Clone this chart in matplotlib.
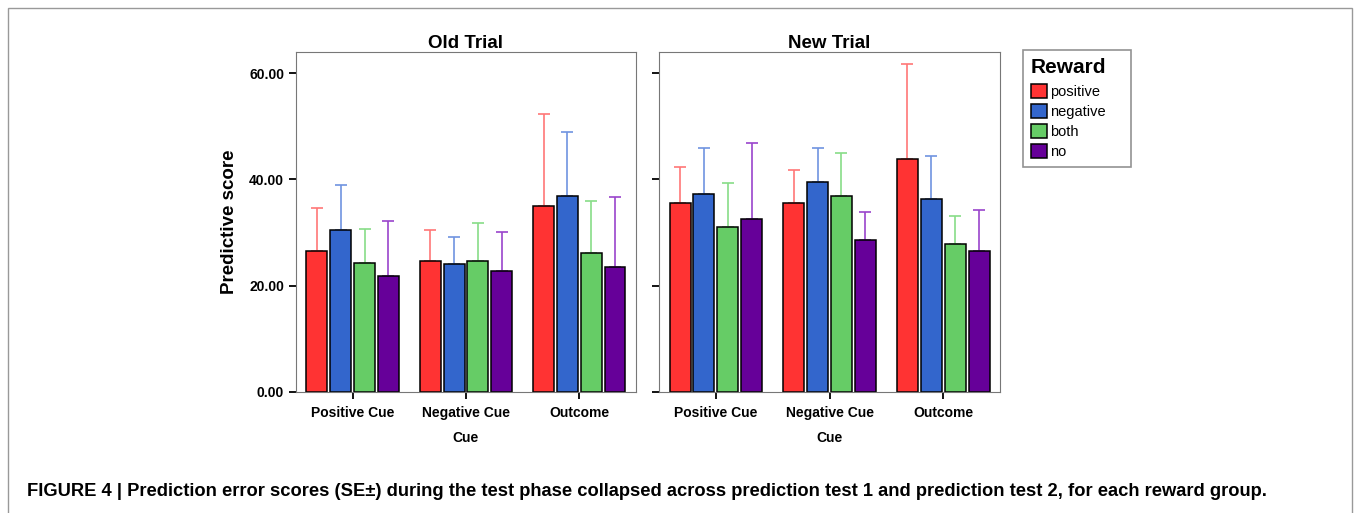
import numpy as np
import matplotlib.pyplot as plt
from matplotlib.patches import Rectangle

plt.rcParams['font.family'] = ['Liberation Sans', 'DejaVu Sans']

cues = ["Positive Cue", "Negative Cue", "Outcome"]
groups = ["positive", "negative", "both", "no"]
bar_colors = ["#ff3333", "#3366cc", "#66cc66", "#660099"]
err_colors = ["#ff7777", "#6f94e0", "#88dd88", "#9a44cc"]

# means per reward group, per cue
old_mean = {
    "positive": [26.6, 24.7, 35.1],
    "negative": [30.4, 24.0, 36.9],
    "both": [24.3, 24.7, 26.1],
    "no": [21.9, 22.7, 23.6],
}
old_top = {
    "positive": [34.6, 30.5, 52.3],
    "negative": [38.9, 29.1, 48.9],
    "both": [30.7, 31.9, 35.9],
    "no": [32.1, 30.1, 36.7],
}
new_mean = {
    "positive": [35.5, 35.5, 43.8],
    "negative": [37.3, 39.6, 36.4],
    "both": [31.1, 36.9, 27.9],
    "no": [32.6, 28.6, 26.6],
}
new_top = {
    "positive": [42.4, 41.8, 61.8],
    "negative": [45.9, 45.9, 44.5],
    "both": [39.4, 44.9, 33.1],
    "no": [46.8, 33.9, 34.2],
}

fig = plt.figure(figsize=(13.56, 5.13), dpi=100)
fig.patches.append(Rectangle((8 / 1356, -0.05), 1344 / 1356, 1.05 - 8 / 513,
                             transform=fig.transFigure,
                             fill=False, edgecolor="#999999", lw=1))

ax1 = fig.add_axes([0.2183, 0.2359, 0.2507, 0.6628])
ax2 = fig.add_axes([0.486, 0.2359, 0.2515, 0.6628])

x = np.arange(len(cues))
w = 0.185
offs = [-0.315, -0.105, 0.105, 0.315]

def draw(ax, means, tops, title):
    handles = []
    for i, g in enumerate(groups):
        m = np.array(means[g])
        t = np.array(tops[g])
        b = ax.bar(x + offs[i], m, w, color=bar_colors[i], edgecolor="black", lw=1.1,
                   label=g, zorder=2)
        handles.append(b)
        ax.errorbar(x + offs[i], m, yerr=[np.zeros_like(m), t - m], fmt="none",
                    ecolor=err_colors[i], elinewidth=1.2, capsize=4, capthick=1.2, zorder=1)
    ax.set_xlim(-0.5, 2.5)
    ax.set_ylim(0, 64)
    ax.set_yticks([0, 20, 40, 60])
    ax.set_xticks(x)
    ax.set_xticklabels(cues, fontsize=10, fontweight="bold")
    ax.set_xlabel("Cue", fontsize=10, fontweight="bold", labelpad=8)
    ax.set_title(title, fontsize=13.5, fontweight="bold", pad=3)
    for s in ax.spines.values():
        s.set_color("#777777")
    ax.tick_params(axis="both", length=5, width=1.3, color="black")
    ax.tick_params(axis="x", pad=5)
    return handles

h = draw(ax1, old_mean, old_top, "Old Trial")
draw(ax2, new_mean, new_top, "New Trial")

ax1.set_yticklabels(["0.00", "20.00", "40.00", "60.00"], fontsize=10, fontweight="bold")
ax1.set_ylabel("Predictive score", fontsize=13.5, fontweight="bold", labelpad=8)
ax2.set_yticklabels([])

leg = fig.legend(handles=h, labels=groups, loc="upper left",
                 bbox_to_anchor=(1023 / 1356, 1 - 163 / 513, 108 / 1356, 113 / 513),
                 mode="expand", borderaxespad=0,
                 title="Reward", title_fontproperties={"size": 15, "weight": "bold"},
                 fontsize=10.5, frameon=True, fancybox=False, edgecolor="#777777",
                 handlelength=1.1, handleheight=1.1, handletextpad=0.2,
                 labelspacing=0.35, borderpad=0.55, alignment="left")
leg.get_frame().set_linewidth(1.2)
leg._legend_box.sep = 5

fig.text(27 / 1356, 1 - 492 / 513,
         "FIGURE 4 | Prediction error scores (SE\u00b1) during the test phase collapsed across "
         "prediction test 1 and prediction test 2, for each reward group.",
         fontsize=13.25, fontweight="bold", va="center", ha="left")

fig.savefig("out.png", dpi=100)
